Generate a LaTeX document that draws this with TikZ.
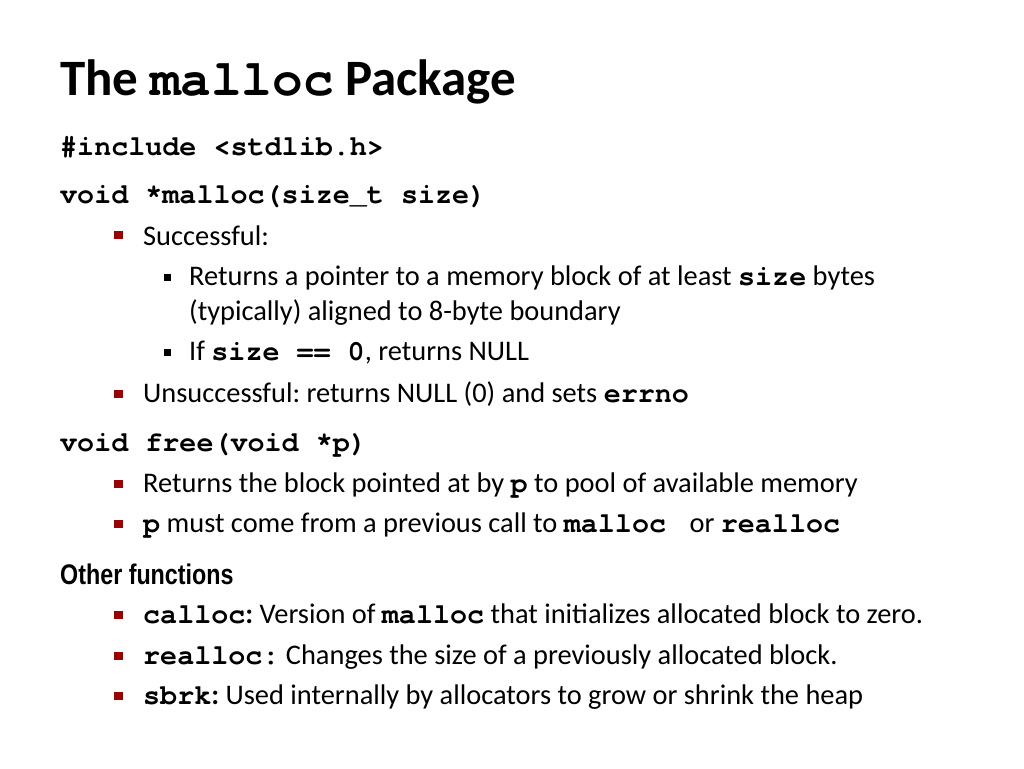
\documentclass[tikz,border=0pt]{standalone}
\usepackage{fontspec}
\setmainfont{Carlito}
\setmonofont{texgyrecursor}[Extension=.otf, UprightFont=*-regular, BoldFont=*-bold]
\newfontfamily\narrowfont[FakeStretch=0.82]{Liberation Sans}
\usepackage{tikz}
\usetikzlibrary{positioning}
\definecolor{bulletred}{RGB}{158,0,0}
\newcommand{\cb}[1]{\texttt{\bfseries #1}}
\frenchspacing
\tikzstyle{slidetitle} = [anchor=base west, inner sep=0pt,
    font=\fontsize{51}{60}\selectfont\bfseries]
\tikzstyle{codeline} = [anchor=base west, inner sep=0pt,
    font=\fontsize{28.4}{34}\selectfont\ttfamily\bfseries]
\tikzstyle{lvlone} = [anchor=base west, inner sep=0pt,
    font=\fontsize{28.4}{35}\selectfont]
\tikzstyle{lvltwo} = [anchor=base west, inner sep=0pt,
    font=\fontsize{28.4}{35}\selectfont]
\tikzstyle{heading} = [anchor=base west, inner sep=0pt,
    font=\fontsize{28.4}{34}\selectfont\narrowfont\bfseries]
\tikzstyle{redbullet} = [rectangle, fill=bulletred, minimum width=9pt,
    minimum height=8.5pt, inner sep=0pt]
\tikzstyle{blackbullet} = [rectangle, fill=black, minimum size=6.5pt, inner sep=0pt]

\begin{document}
\begin{tikzpicture}[x=1pt, y=-1pt]
\useasboundingbox (0,0) rectangle (1024,768);

\node [slidetitle] (title) at (60,95) {The \cb{malloc} Package};

% malloc
\node [codeline] (incl) at (60,155) {\#include <stdlib.h>};
\node [codeline] (mallocsig) at (60,203) {void *malloc(size\_t size)};
\node [redbullet] (bsucc) at (118,235) {};
\node [lvlone] (succ) at (143,245) {Successful:};
\node [blackbullet] (bptr) at (167.5,277.5) {};
\node [lvltwo] (ptr) at (189,285) {Returns a pointer to a memory block of at least \cb{size} bytes};
\node [lvltwo] (ptrcont) at (189,320) {(typically) aligned to 8-byte boundary};
\node [blackbullet] (bzero) at (167.5,352.5) {};
\node [lvltwo] (zero) at (189,360) {If \cb{size == 0}, returns NULL};
\node [redbullet] (bfail) at (118,394) {};
\node [lvlone] (fail) at (143,402) {Unsuccessful: returns NULL (0) and sets \cb{errno}};

% free
\node [codeline] (freesig) at (60,451) {void free(void *p)};
\node [redbullet] (bpool) at (118,484) {};
\node [lvlone] (pool) at (143,492) {Returns the block pointed at by \cb{p} to pool of available memory};
\node [redbullet] (bprev) at (118,524) {};
\node [lvlone] (prev) at (143,532) {\cb{p} must come from a previous call to \cb{malloc } or \cb{realloc}};

% others
\node [heading] (other) at (60,584) {Other functions};
\node [redbullet] (bcalloc) at (118,615) {};
\node [lvlone] (calloc) at (143,623) {\cb{calloc}\textbf{:} Version of \cb{malloc} that initializes allocated block to zero.};
\node [redbullet] (brealloc) at (118,656) {};
\node [lvlone] (realloc) at (143,664) {\cb{realloc:} Changes the size of a previously allocated block.};
\node [redbullet] (bsbrk) at (118,696) {};
\node [lvlone] (sbrk) at (143,704) {\cb{sbrk}\textbf{:} Used internally by allocators to grow or shrink the heap};
\end{tikzpicture}
\end{document}
